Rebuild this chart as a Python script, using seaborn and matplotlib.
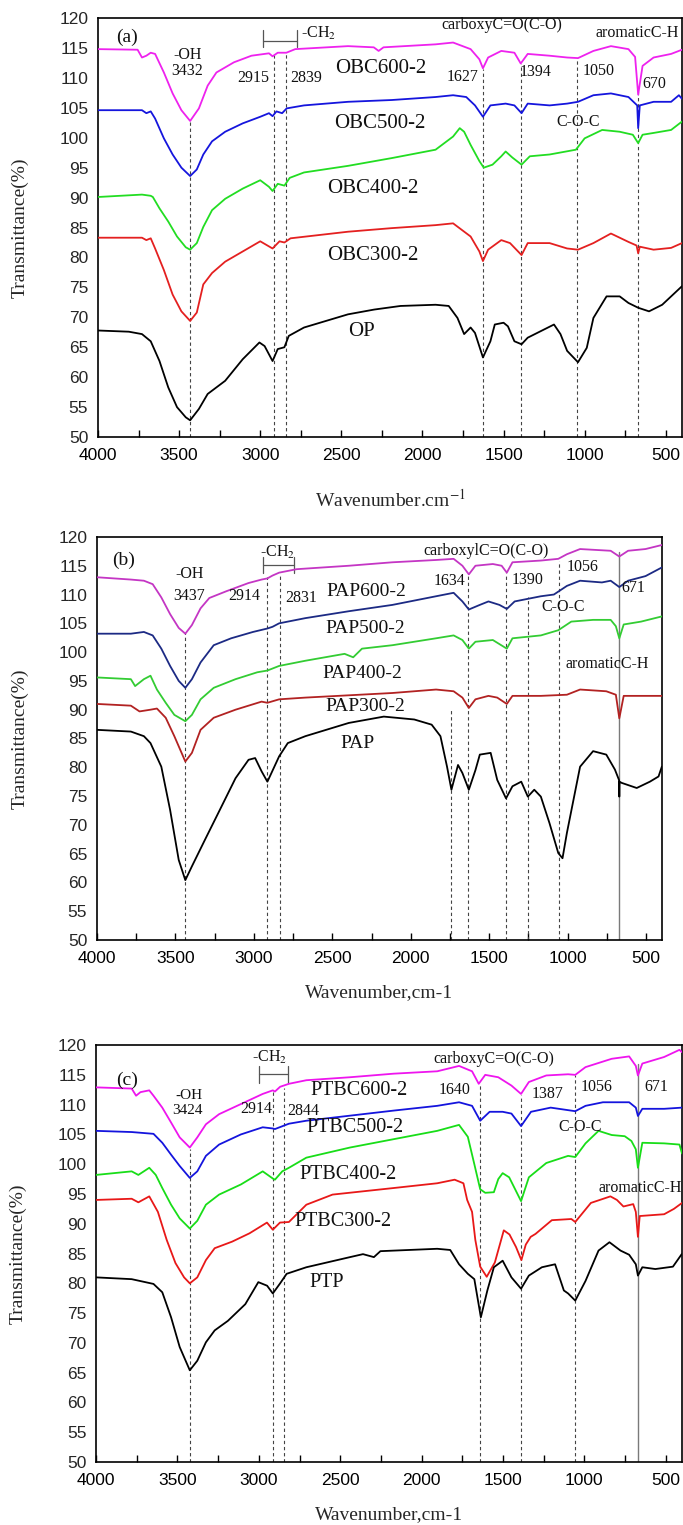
import numpy as np
import matplotlib
matplotlib.use("Agg")
import matplotlib.pyplot as plt
import seaborn as sns

sns.set_theme(style="ticks")
plt.rcParams["font.family"] = ["Liberation Sans", "DejaVu Sans"]
plt.rcParams["mathtext.fontset"] = "stix"
SERIF = ["Liberation Serif", "DejaVu Serif"]

# ---------------- Panel (a) data ----------------
a_obc600_wn = [4000, 3756, 3729, 3702, 3675, 3648, 3594, 3540, 3486, 3432, 3378, 3324, 3270, 3162, 3054, 2946, 2924, 2892, 2839, 2784, 2459, 2300, 2270, 2240, 1919, 1811, 1703, 1649, 1627, 1595, 1514, 1433, 1394, 1351, 1216, 1108, 1041, 946, 838, 730, 689, 670, 643, 575, 467, 400]
a_obc600_t = [114.8, 114.7, 113.4, 113.7, 114.2, 114.0, 110.9, 107.4, 104.6, 102.8, 104.9, 108.7, 110.9, 112.6, 113.7, 114.1, 113.6, 114.2, 114.2, 114.8, 115.3, 115.1, 114.5, 115.1, 115.6, 115.9, 114.8, 113.1, 111.6, 113.4, 114.5, 114.2, 112.4, 114.0, 113.7, 113.4, 113.3, 114.5, 115.3, 114.8, 113.5, 107.2, 112.0, 113.4, 114.0, 114.7]

a_obc500_wn = [4000, 3729, 3702, 3675, 3648, 3594, 3540, 3486, 3432, 3391, 3351, 3297, 3216, 3108, 3000, 2946, 2924, 2900, 2865, 2837, 2730, 2459, 2189, 1919, 1811, 1730, 1676, 1627, 1581, 1487, 1433, 1389, 1351, 1216, 1108, 1041, 946, 838, 730, 676, 670, 660, 575, 467, 419, 400]
a_obc500_t = [104.6, 104.6, 104.1, 104.4, 103.2, 99.9, 97.2, 95.0, 93.6, 94.7, 97.2, 99.4, 101.0, 102.4, 103.5, 104.1, 103.6, 104.4, 104.1, 104.9, 105.4, 106.0, 106.3, 106.8, 107.1, 106.8, 105.4, 103.5, 105.4, 105.7, 105.4, 104.1, 105.7, 105.4, 105.7, 106.0, 107.1, 107.4, 106.8, 105.4, 101.6, 105.4, 106.0, 106.0, 107.1, 106.5]

a_obc400_wn = [4000, 3729, 3675, 3662, 3621, 3567, 3513, 3459, 3432, 3391, 3351, 3297, 3216, 3108, 3000, 2946, 2924, 2892, 2851, 2818, 2730, 2459, 2189, 1919, 1811, 1770, 1743, 1703, 1649, 1622, 1568, 1514, 1487, 1446, 1389, 1338, 1216, 1054, 1000, 892, 784, 703, 670, 643, 575, 467, 400]
a_obc400_t = [90.1, 90.5, 90.3, 90.1, 88.2, 86.0, 83.5, 81.7, 81.3, 82.4, 85.1, 87.9, 89.8, 91.5, 92.9, 91.8, 91.1, 92.3, 92.0, 93.3, 94.2, 95.3, 96.6, 98.0, 100.2, 101.6, 101.0, 98.8, 96.1, 95.0, 95.5, 96.9, 97.7, 96.7, 95.5, 96.9, 97.2, 98.0, 99.9, 101.3, 101.0, 100.5, 99.1, 100.5, 100.8, 101.3, 102.7]

a_obc300_wn = [4000, 3729, 3702, 3675, 3648, 3594, 3540, 3486, 3432, 3391, 3351, 3297, 3216, 3108, 3000, 2924, 2881, 2851, 2813, 2459, 2189, 1919, 1811, 1703, 1649, 1627, 1595, 1514, 1460, 1389, 1351, 1216, 1108, 1041, 946, 838, 730, 680, 670, 660, 575, 467, 400]
a_obc300_t = [83.3, 83.3, 82.9, 83.2, 81.5, 77.9, 73.8, 71.0, 69.4, 70.8, 75.5, 77.4, 79.3, 81.0, 82.7, 81.5, 82.7, 82.5, 83.2, 84.3, 84.9, 85.4, 85.7, 83.5, 81.0, 79.4, 81.3, 82.9, 82.4, 80.4, 82.4, 82.4, 81.5, 81.3, 82.4, 84.0, 82.6, 82.0, 80.7, 81.8, 81.3, 81.6, 82.4]

a_op_wn = [4000, 3810, 3729, 3675, 3621, 3567, 3513, 3459, 3432, 3378, 3324, 3216, 3108, 3005, 2973, 2924, 2892, 2851, 2824, 2730, 2459, 2297, 2135, 1919, 1838, 1784, 1743, 1703, 1676, 1627, 1581, 1554, 1500, 1473, 1433, 1389, 1351, 1270, 1189, 1149, 1108, 1041, 987, 946, 865, 784, 730, 670, 603, 522, 400]
a_op_t = [67.8, 67.6, 67.2, 66.0, 62.7, 58.3, 55.0, 53.3, 52.8, 54.7, 57.2, 59.4, 63.0, 65.8, 65.2, 62.7, 64.7, 65.0, 66.9, 68.3, 70.5, 71.3, 71.9, 72.1, 71.9, 69.9, 67.2, 68.3, 67.4, 63.3, 66.0, 68.8, 69.1, 68.5, 66.0, 65.5, 66.6, 67.7, 68.8, 67.2, 64.4, 62.5, 64.9, 69.9, 73.5, 73.5, 72.4, 71.6, 71.0, 72.1, 75.2]

# ---------------- Panel (b) data ----------------
b_pap600_wn = [4000, 3784, 3701, 3645, 3590, 3534, 3479, 3437, 3395, 3340, 3284, 3173, 3034, 2951, 2914, 2881, 2839, 2728, 2395, 2117, 1839, 1727, 1671, 1630, 1588, 1477, 1421, 1388, 1352, 1171, 1060, 1005, 921, 726, 671, 615, 504, 400]
b_pap600_t = [113.0, 112.6, 112.4, 111.8, 109.5, 106.6, 104.2, 103.2, 104.7, 107.6, 109.4, 110.6, 112.0, 112.6, 112.8, 113.3, 113.8, 114.4, 115.0, 115.6, 116.0, 116.2, 115.0, 113.5, 115.0, 115.3, 115.0, 113.8, 115.6, 115.9, 116.2, 117.0, 117.9, 117.6, 116.6, 117.6, 117.9, 118.6]

b_pap500_wn = [4000, 3784, 3701, 3645, 3590, 3534, 3479, 3437, 3395, 3340, 3256, 3145, 3006, 2914, 2881, 2839, 2672, 2395, 2117, 1839, 1727, 1671, 1630, 1560, 1505, 1435, 1388, 1338, 1171, 1088, 1005, 921, 782, 726, 671, 615, 504, 400]
b_pap500_t = [103.2, 103.2, 103.5, 102.9, 100.6, 97.6, 95.0, 93.8, 95.3, 98.2, 101.2, 102.4, 103.5, 104.1, 104.4, 105.0, 105.9, 107.1, 108.2, 109.7, 110.3, 108.8, 107.4, 108.2, 108.8, 108.2, 107.5, 108.8, 109.7, 110.0, 111.5, 112.4, 112.1, 112.4, 111.3, 112.4, 113.2, 114.7]

b_pap400_wn = [4000, 3784, 3757, 3701, 3659, 3618, 3562, 3507, 3437, 3395, 3340, 3256, 3117, 2978, 2914, 2839, 2672, 2422, 2367, 2311, 2117, 1839, 1727, 1671, 1630, 1588, 1477, 1388, 1352, 1171, 1060, 977, 838, 726, 693, 671, 643, 532, 400]
b_pap400_t = [95.6, 95.3, 94.1, 95.3, 95.9, 93.5, 91.2, 89.1, 88.0, 89.1, 91.8, 93.8, 95.3, 96.5, 96.8, 97.6, 98.5, 99.7, 99.1, 100.6, 101.2, 102.4, 102.9, 102.1, 100.6, 101.8, 102.1, 100.6, 102.4, 102.9, 103.8, 105.3, 105.6, 105.6, 104.5, 102.4, 104.8, 105.3, 106.2]

b_pap300_wn = [4000, 3784, 3729, 3659, 3618, 3562, 3507, 3437, 3395, 3340, 3256, 3117, 2951, 2914, 2839, 2672, 2117, 1839, 1727, 1671, 1630, 1588, 1505, 1449, 1388, 1352, 1171, 1005, 921, 754, 693, 671, 643, 532, 400]
b_pap300_t = [91.0, 90.7, 89.7, 90.0, 90.2, 88.6, 85.4, 81.0, 82.5, 86.5, 88.6, 90.0, 91.4, 91.2, 91.8, 92.1, 92.9, 93.5, 93.2, 92.1, 90.3, 91.8, 92.4, 92.1, 91.0, 92.4, 92.4, 92.6, 93.5, 93.2, 92.6, 88.5, 92.4, 92.4, 92.4]

b_pap_wn = [4000, 3784, 3701, 3659, 3590, 3534, 3479, 3437, 3395, 3312, 3228, 3117, 3034, 2992, 2951, 2914, 2895, 2839, 2784, 2672, 2395, 2172, 1978, 1867, 1811, 1769, 1741, 1699, 1671, 1630, 1588, 1560, 1491, 1449, 1393, 1352, 1296, 1254, 1213, 1171, 1116, 1060, 1033, 1005, 921, 838, 754, 699, 673, 671, 669, 657, 560, 476, 421, 400]
b_pap_t = [86.5, 86.2, 85.4, 84.2, 80.1, 72.6, 63.9, 60.4, 62.8, 67.4, 72.0, 78.1, 81.3, 81.6, 79.3, 77.5, 78.6, 81.9, 84.2, 85.4, 87.7, 88.8, 88.3, 87.4, 85.4, 80.1, 76.1, 80.4, 79.0, 76.1, 79.5, 82.2, 82.5, 77.8, 74.6, 76.7, 77.5, 74.9, 76.1, 74.9, 70.3, 65.1, 64.2, 68.6, 80.1, 82.8, 82.2, 79.6, 77.8, 74.9, 77.5, 77.3, 76.4, 77.5, 78.4, 80.1]

# ---------------- Panel (c) data ----------------
c_ptbc600_wn = [4000, 3781, 3754, 3727, 3673, 3647, 3593, 3539, 3486, 3424, 3378, 3325, 3244, 3110, 2976, 2914, 2901, 2869, 2815, 2708, 2440, 2172, 1904, 1770, 1690, 1649, 1609, 1529, 1448, 1389, 1341, 1234, 1100, 1056, 993, 832, 725, 684, 671, 644, 510, 416, 400]
c_ptbc600_t = [112.9, 112.7, 111.5, 112.1, 112.4, 111.5, 109.5, 107.0, 104.5, 102.8, 104.5, 106.7, 108.4, 110.1, 111.8, 112.4, 112.2, 113.0, 113.5, 114.1, 114.6, 115.2, 115.6, 116.5, 115.6, 113.5, 115.0, 114.6, 113.2, 111.8, 113.8, 114.9, 115.1, 115.0, 116.3, 117.7, 118.1, 116.5, 114.9, 116.9, 118.0, 119.2, 118.8]

c_ptbc500_wn = [4000, 3781, 3647, 3593, 3539, 3486, 3424, 3378, 3325, 3244, 3110, 2976, 2914, 2901, 2815, 2708, 2172, 1904, 1770, 1690, 1640, 1582, 1502, 1448, 1389, 1328, 1207, 1056, 993, 886, 725, 684, 671, 644, 510, 400]
c_ptbc500_t = [105.6, 105.4, 105.1, 103.6, 101.6, 99.7, 97.7, 98.8, 101.4, 103.3, 105.0, 106.2, 106.0, 105.9, 106.8, 107.3, 109.0, 109.8, 110.4, 109.8, 107.3, 108.8, 108.8, 108.5, 106.4, 108.8, 109.5, 108.9, 109.8, 110.4, 110.4, 109.5, 108.1, 109.3, 109.3, 109.5]

c_ptbc400_wn = [4000, 3781, 3740, 3673, 3633, 3593, 3539, 3486, 3424, 3378, 3325, 3244, 3110, 2976, 2914, 2901, 2856, 2815, 2708, 2440, 2172, 1904, 1797, 1770, 1716, 1676, 1640, 1609, 1556, 1529, 1502, 1462, 1389, 1341, 1234, 1100, 1056, 993, 913, 832, 752, 711, 684, 671, 644, 510, 416, 400]
c_ptbc400_t = [98.2, 98.8, 98.2, 99.4, 98.2, 96.0, 93.2, 90.9, 89.2, 90.5, 93.2, 94.9, 96.6, 98.8, 97.6, 97.4, 98.8, 99.4, 101.1, 102.8, 104.2, 105.6, 106.4, 106.6, 104.6, 100.0, 95.8, 95.2, 95.3, 97.5, 98.5, 97.8, 93.8, 97.8, 100.2, 101.4, 101.2, 103.5, 105.6, 104.9, 104.7, 103.9, 102.5, 99.4, 103.6, 103.5, 103.3, 101.8]

c_ptbc300_wn = [4000, 3781, 3740, 3673, 3620, 3566, 3512, 3459, 3424, 3378, 3325, 3271, 3164, 3057, 2950, 2914, 2870, 2815, 2708, 2547, 2172, 1904, 1797, 1743, 1720, 1690, 1670, 1640, 1600, 1550, 1495, 1460, 1420, 1387, 1360, 1330, 1300, 1200, 1080, 1056, 960, 840, 800, 760, 700, 684, 671, 660, 510, 450, 400]
c_ptbc300_t = [94.0, 94.2, 93.6, 94.6, 92.0, 87.3, 83.4, 81.0, 80.0, 81.0, 83.9, 85.9, 87.0, 88.4, 90.2, 89.0, 90.2, 90.3, 93.2, 94.9, 96.0, 96.8, 97.4, 96.8, 94.0, 92.0, 87.3, 82.8, 81.1, 83.5, 88.9, 88.2, 86.1, 83.9, 86.5, 87.8, 88.3, 90.6, 90.8, 90.3, 93.5, 94.6, 94.0, 92.9, 93.3, 92.0, 87.8, 91.3, 91.6, 92.5, 93.5]

c_ptp_wn = [4000, 3781, 3647, 3593, 3539, 3486, 3424, 3378, 3325, 3271, 3190, 3083, 3003, 2949, 2914, 2869, 2829, 2708, 2440, 2360, 2293, 2253, 1904, 1824, 1770, 1716, 1676, 1636, 1596, 1556, 1502, 1448, 1389, 1341, 1261, 1180, 1126, 1100, 1056, 993, 913, 846, 778, 725, 684, 671, 644, 564, 456, 402]
c_ptp_t = [81.0, 80.7, 79.9, 78.5, 74.3, 69.3, 65.4, 67.0, 70.1, 72.1, 73.7, 76.5, 80.2, 79.6, 78.3, 80.0, 81.6, 82.7, 84.4, 84.9, 84.4, 85.4, 85.8, 85.6, 83.2, 81.6, 80.7, 74.3, 78.8, 82.7, 83.8, 81.0, 79.1, 81.3, 82.7, 83.2, 78.8, 78.3, 77.1, 80.4, 85.5, 86.9, 85.5, 84.8, 83.2, 81.3, 82.7, 82.4, 82.8, 84.9]

# reference wavenumbers (dashed guides) and their top ends
a_guides = [(3432, 102.6), (2915, 113.8), (2839, 114.4), (1627, 111.5), (1394, 112.3), (1050, 113.3), (670, 108.0)]
b_guides = [(3437, 103.4), (2914, 113.0), (2831, 113.5), (1741, 90.0), (1634, 113.4), (1390, 113.8), (1250, 109.5), (1056, 115.8)]
c_guides = [(3424, 102.6), (2914, 112.3), (2844, 112.8), (1640, 113.3), (1387, 111.6), (1056, 115.0)]

fig = plt.figure(figsize=(6.83, 15.25), dpi=100)

def draw_panel(rect, curves, guides, solid, bracket, labels, xlabel, ylab_x, xlab_y):
    ax = fig.add_axes(rect)
    ax.set_facecolor("white")
    for g_wn, g_top in guides:
        ax.plot([g_wn, g_wn], [50, g_top], color="#444444", lw=0.8,
                ls=(0, (3, 2.5)), zorder=1)
    if solid is not None:
        ax.plot([solid[0], solid[0]], [50, solid[1]], color="#7a7a7a", lw=1.0, zorder=1)
    for wn, t, col in curves:
        sns.lineplot(x=np.array(wn), y=np.array(t), ax=ax, color=col, lw=1.3,
                     sort=False, estimator=None, zorder=3)
    # bracket for -CH2
    (x1, x2, yh, ylo, yhi) = bracket
    ax.plot([x1, x2], [yh, yh], color="#555555", lw=0.9)
    ax.plot([x1, x1], [ylo, yhi], color="#555555", lw=0.9)
    ax.plot([x2, x2], [ylo, yhi], color="#555555", lw=0.9)
    for x, y, s, fs in labels:
        ax.text(x, y, s, ha="center", va="center", fontsize=fs,
                family=SERIF, color="#111111", zorder=5)
    ax.set_xlim(4000, 400)
    ax.set_ylim(50, 120)
    ticks = np.arange(4000, 399, -250)
    ax.set_xticks(ticks)
    ax.set_xticklabels([str(v) if v % 500 == 0 else "" for v in ticks])
    ax.set_yticks(np.arange(50, 121, 5))
    ax.tick_params(axis="x", direction="in", length=5, width=1.0, pad=8,
                   labelsize=12.5, top=False, colors="black")
    ax.tick_params(axis="y", length=0, pad=7, labelsize=12.5)
    for sp in ax.spines.values():
        sp.set_visible(True)
        sp.set_linewidth(1.2)
        sp.set_color("black")
    ax.set_xlabel(xlabel, fontsize=14, family=SERIF, va="center")
    ax.set_ylabel("Transmittance(%)", fontsize=14, family=SERIF, va="center")
    ax.xaxis.set_label_coords(0.5, xlab_y)
    ax.yaxis.set_label_coords(ylab_x, 0.5)
    return ax

# Panel (a)
draw_panel(
    [0.1435, 0.7134, 0.855, 0.2748],
    [(a_obc600_wn, a_obc600_t, "#ee22ee"), (a_obc500_wn, a_obc500_t, "#1515dd"),
     (a_obc400_wn, a_obc400_t, "#22dd22"), (a_obc300_wn, a_obc300_t, "#e42020"),
     (a_op_wn, a_op_t, "black")],
    a_guides, None, (2980, 2773, 116.2, 115.1, 118.0),
    [(3820, 116.7, "(a)", 14),
     (3448, 113.8, "-OH", 11.5), (3448, 111.1, "3432", 11.5),
     (3043, 109.9, "2915", 11.5), (2719, 109.9, "2839", 11.5),
     (2640, 117.5, "-CH$_2$", 11.5),
     (1513, 118.9, "carboxyC=O(C-O)", 11.5), (676, 117.5, "aromaticC-H", 11.5),
     (1751, 110.1, "1627", 11.5), (1303, 110.9, "1394", 11.5),
     (914, 111.2, "1050", 11.5), (568, 109.0, "670", 11.5),
     (1041, 102.7, "C-O-C", 11.5),
     (2260, 111.5, "OBC600-2", 15), (2260, 102.4, "OBC500-2", 15),
     (2305, 91.5, "OBC400-2", 15), (2305, 80.4, "OBC300-2", 15),
     (2378, 67.6, "OP", 15)],
    "Wavenumber.cm$^{-1}$", -0.134, -0.150)

# Panel (b)
draw_panel(
    [0.142, 0.3836, 0.827, 0.2643],
    [(b_pap600_wn, b_pap600_t, "#c436c4"), (b_pap500_wn, b_pap500_t, "#1c2a84"),
     (b_pap400_wn, b_pap400_t, "#33cc33"), (b_pap300_wn, b_pap300_t, "#b22222"),
     (b_pap_wn, b_pap_t, "black")],
    b_guides, (671, 117.3), (2944, 2744, 115.1, 113.7, 116.6),
    [(3832, 115.9, "(b)", 14),
     (3409, 113.5, "-OH", 11.5), (3410, 109.7, "3437", 11.5),
     (3062, 109.7, "2914", 11.5), (2700, 109.4, "2831", 11.5),
     (2850, 117.3, "-CH$_2$", 11.5),
     (1519, 117.6, "carboxylC=O(C-O)", 11.5),
     (1755, 112.4, "1634", 11.5), (1255, 112.6, "1390", 11.5),
     (907, 114.7, "1056", 11.5), (582, 111.2, "671", 11.5),
     (1032, 107.9, "C-O-C", 11.5), (749, 97.9, "aromaticC-H", 11.5),
     (2283, 110.6, "PAP600-2", 14), (2292, 104.1, "PAP500-2", 14),
     (2306, 96.2, "PAP400-2", 14), (2292, 90.5, "PAP300-2", 14),
     (2339, 84.2, "PAP", 14)],
    "Wavenumber,cm-1", -0.136, -0.1315)

# Panel (c)
draw_panel(
    [0.1406, 0.0413, 0.858, 0.2734],
    [(c_ptbc600_wn, c_ptbc600_t, "#ee15ee"), (c_ptbc500_wn, c_ptbc500_t, "#1414dd"),
     (c_ptbc400_wn, c_ptbc400_t, "#18dd18"), (c_ptbc300_wn, c_ptbc300_t, "#e81818"),
     (c_ptp_wn, c_ptp_t, "black")],
    c_guides, (671, 116.8), (2997, 2819, 115.2, 113.6, 116.5),
    [(3807, 114.1, "(c)", 14),
     (3432, 111.5, "-OH", 11), (3437, 109.0, "3424", 11),
     (3017, 109.3, "2914", 11.5), (2730, 109.0, "2844", 11.5),
     (2931, 117.9, "-CH$_2$", 11.5),
     (1555, 117.7, "carboxyC=O(C-O)", 11.5),
     (1797, 112.4, "1640", 11.5), (1228, 111.8, "1387", 11.5),
     (925, 112.9, "1056", 11.5), (558, 112.9, "671", 11.5),
     (1027, 106.2, "C-O-C", 11.5), (657, 96.0, "aromaticC-H", 11.5),
     (2386, 112.4, "PTBC600-2", 14.5), (2408, 106.2, "PTBC500-2", 14.5),
     (2453, 98.2, "PTBC400-2", 14.5), (2480, 90.3, "PTBC300-2", 14.5),
     (2585, 80.2, "PTP", 14.5)],
    "Wavenumber,cm-1", -0.133, -0.127)

fig.savefig("out.png", dpi=100, facecolor="white")
